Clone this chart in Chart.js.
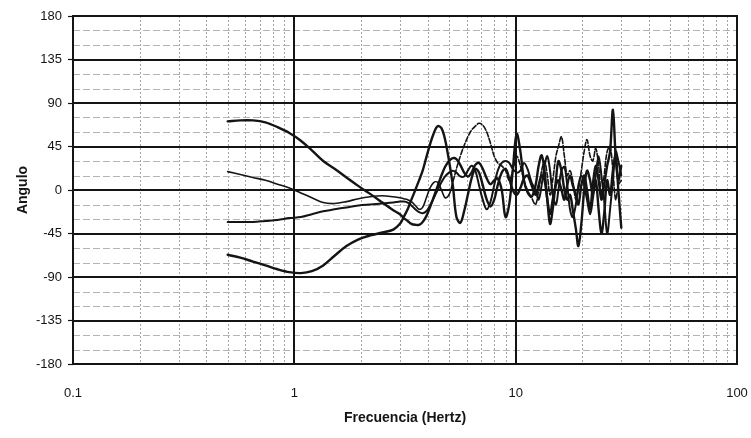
<!DOCTYPE html>
<html>
<head>
<meta charset="utf-8">
<script src="https://cdn.jsdelivr.net/npm/chart.js@4.4.1/dist/chart.umd.min.js"></script>
<style>
  html, body { margin: 0; padding: 0; background: #ffffff; }
  #wrap { width: 751px; height: 438px; }
</style>
</head>
<body>
<div id="wrap"><canvas id="c" width="751" height="438"></canvas></div>
<script>
// Frequency samples (Hz), shared by the four phase curves
const freqHz = [
  0.5, 0.57, 0.65, 0.74, 0.84, 0.95, 1.07, 1.2, 1.35, 1.52, 1.72, 1.95, 2.2, 2.5, 2.8,
  3.0, 3.12, 3.25, 3.38, 3.52, 3.66, 3.8, 3.95, 4.1, 4.27,
  4.44, 4.62, 4.8, 5.0, 5.2, 5.4, 5.62, 5.85, 6.08, 6.32,
  6.57, 6.83, 7.1, 7.4, 7.7, 8.0, 8.3, 8.65, 9.0, 9.35,
  9.7, 10.1, 10.5, 10.9, 11.3, 11.8,
  12.3, 12.7, 13.1, 13.5, 13.9, 14.3, 14.7, 15.2, 15.6, 16.1,
  16.6, 17.1, 17.6, 18.1, 18.7, 19.2, 19.8, 20.4, 21.0, 21.7,
  22.3, 23.0, 23.7, 24.4, 25.1, 25.9, 26.7, 27.5, 28.3, 29.1,
  30.0
];

// Phase angle (degrees) of each curve at the frequencies above
const angleA = [
  71, 72, 72, 70, 65, 59, 51, 41, 30, 22, 13, 4, -4, -13, -21,
  -25, -29, -32, -35, -36, -36, -33, -27, -18, -7,
  4, 15, 24, 30, 33, 32, 26, 18, 14, 18,
  26, 28, 22, 12, 6, 10, 12, 0, -28, -15,
  20, 58, 40, 10, -2, -7,
  5, 25, 36, 20, -10, -35, -20, 10, 30, 20,
  0, -10, -5, -20, -40, -58, -35, 0, 20, 10,
  -5, 10, -20, -45, -25, 10, -5, 20, 35, 0,
  -39
];
const angleB = [
  19, 16, 13, 10, 6, 2, -3, -8, -13, -14, -12, -9, -7, -6, -7,
  -8, -9, -10, -12, -16, -20, -18, -8, 2, 8,
  8, 0, -8, -5, 8, 22, 35, 46, 55, 62,
  66, 69, 67, 60, 48, 35, 28, 25, 20, 10,
  20, 35, 25, 10, 0, -8,
  -15, 0, 20, 30, 15, -5, 10, 35, 45, 55,
  35, 15, 20, 10, -10, 0, 20, 40, 52, 35,
  30, 43, 25, -5, 15, 40, 45, 20, -10, 5,
  10
];
const angleC = [
  -33, -33, -33, -32, -31, -29, -28, -25, -22, -20, -18, -16, -15, -14, -13,
  -12, -12, -13, -16, -20, -23, -24, -22, -16, -8,
  0, 8, 14, 18, 20, 18, 14, 14, 20, 25,
  20, 5, -10, -20, -12, 5, 20, 28, 30, 28,
  22, 18, 20, 28, 22, 8,
  0, -10, 5, 25, 35, 20, -5, -15, 0, 20,
  24, 5, -20, -28, -15, 5, 15, 5, -10, -25,
  -10, 15, 35, 15, -10, -45, -20, 10, 40, 30,
  15
];
const angleD = [
  -67, -70, -74, -78, -82, -85, -86, -84, -78, -68, -58, -51, -47, -44, -41,
  -35, -28, -20, -10, 0, 10, 20, 34, 47, 59,
  66, 64, 52, 30, 5, -28, -34, -22, -5, 12,
  22, 18, 5, -10, -17, -10, 5, 18, 22, 12,
  0, -5, 2, 12, 15, 5,
  -5, 5, 15, 10, -10, -25, -10, 5, 10, 0,
  -10, 5, 15, 5, -5, -15, 5, 15, 0, -20,
  5, 25, 10, -10, 5, 25, 40, 83, 35, 10,
  25
];

// Axis ticks
const decadeTicks = [0.1, 1, 10, 100];
const decadeLabels = ['0.1', '1', '10', '100'];
const angleTicks = [-180, -135, -90, -45, 0, 45, 90, 135, 180];
const minorAngleStep = 15;

const FONT = "'Liberation Sans', Arial, Helvetica, sans-serif";
const INK = '#141414';

function toPoints(values) {
  return freqHz.map((f, i) => ({ x: f, y: values[i] }));
}

// Log-decade grid, 15-degree minor grid and the plot frame
const gridPlugin = {
  id: 'bodeGrid',
  beforeDatasetsDraw(chart) {
    const { ctx, chartArea: { left, right, top, bottom }, scales: { x, y } } = chart;
    ctx.save();
    ctx.lineWidth = 1;

    // minor verticals (2..9 within each decade)
    ctx.strokeStyle = '#a4a4a4';
    ctx.setLineDash([2, 2]);
    for (let d = 0; d < decadeTicks.length - 1; d++) {
      for (let k = 2; k <= 9; k++) {
        const px = Math.round(x.getPixelForValue(decadeTicks[d] * k)) + 0.5;
        ctx.beginPath(); ctx.moveTo(px, top); ctx.lineTo(px, bottom); ctx.stroke();
      }
    }
    // minor horizontals every 15 degrees
    ctx.strokeStyle = '#b4b4b4';
    ctx.setLineDash([7, 3]);
    for (let v = -180 + minorAngleStep; v < 180; v += minorAngleStep) {
      if (v % 45 === 0) continue;
      const py = Math.round(y.getPixelForValue(v)) + 0.5;
      ctx.beginPath(); ctx.moveTo(left, py); ctx.lineTo(right, py); ctx.stroke();
    }

    // major lines
    ctx.setLineDash([]);
    ctx.strokeStyle = INK;
    ctx.lineWidth = 2;
    decadeTicks.forEach(v => {
      const px = Math.round(x.getPixelForValue(v));
      ctx.beginPath(); ctx.moveTo(px, top); ctx.lineTo(px, bottom); ctx.stroke();
    });
    angleTicks.forEach(v => {
      const py = Math.round(y.getPixelForValue(v));
      ctx.beginPath(); ctx.moveTo(left, py); ctx.lineTo(right, py); ctx.stroke();
    });
    ctx.strokeRect(left, top, right - left, bottom - top);
    ctx.restore();
  }
};

const lineBase = {
  borderColor: INK,
  pointRadius: 0,
  fill: false,
  tension: 0.35,
  borderJoinStyle: 'round',
  borderCapStyle: 'round'
};

new Chart(document.getElementById('c'), {
  type: 'line',
  data: {
    datasets: [
      Object.assign({ label: 'A', data: toPoints(angleA), borderWidth: 2.4 }, lineBase),
      Object.assign({ label: 'B', data: toPoints(angleB), borderWidth: 1.6,
        segment: { borderDash: c => (c.p0.parsed.x > 4.8 ? [5, 2] : undefined) } }, lineBase),
      Object.assign({ label: 'C', data: toPoints(angleC), borderWidth: 2 }, lineBase),
      Object.assign({ label: 'D', data: toPoints(angleD), borderWidth: 2.4 }, lineBase)
    ]
  },
  options: {
    responsive: false,
    animation: false,
    devicePixelRatio: 1,
    layout: { padding: { left: 0, right: 14, top: 16, bottom: 0 } },
    plugins: { legend: { display: false }, tooltip: { enabled: false } },
    scales: {
      x: {
        type: 'logarithmic',
        min: 0.1,
        max: 100,
        afterBuildTicks: scale => {
          const t = [];
          for (let d = 0; d < decadeTicks.length - 1; d++) {
            for (let k = 1; k <= 9; k++) t.push({ value: decadeTicks[d] * k });
          }
          t.push({ value: decadeTicks[decadeTicks.length - 1] });
          scale.ticks = t;
        },
        afterFit: scale => { scale.height = 74; },
        grid: { drawOnChartArea: false, drawTicks: true, tickLength: 19, tickColor: 'rgba(0,0,0,0)' },
        border: { display: false },
        ticks: {
          autoSkip: false,
          maxRotation: 0,
          padding: 3,
          color: INK,
          font: { family: FONT, size: 13 },
          callback: (value, index) => (index % 9 === 0 ? decadeLabels[index / 9] : '')
        },
        title: {
          display: true,
          text: 'Frecuencia (Hertz)',
          color: INK,
          font: { family: FONT, size: 14, weight: 'bold' },
          padding: { top: 0, bottom: 11 }
        }
      },
      y: {
        min: -180,
        max: 180,
        afterBuildTicks: scale => { scale.ticks = angleTicks.map(v => ({ value: v })); },
        afterFit: scale => { scale.width = 73; },
        grid: { drawOnChartArea: false, drawTicks: true, tickLength: 5, tickColor: INK, tickWidth: 1.2 },
        border: { display: false },
        ticks: {
          padding: 6,
          color: INK,
          font: { family: FONT, size: 13 },
          callback: v => String(v)
        },
        title: {
          display: true,
          text: 'Angulo',
          color: INK,
          font: { family: FONT, size: 14, weight: 'bold' },
          padding: { top: 15, bottom: 0 }
        }
      }
    }
  },
  plugins: [gridPlugin]
});
</script>
</body>
</html>
